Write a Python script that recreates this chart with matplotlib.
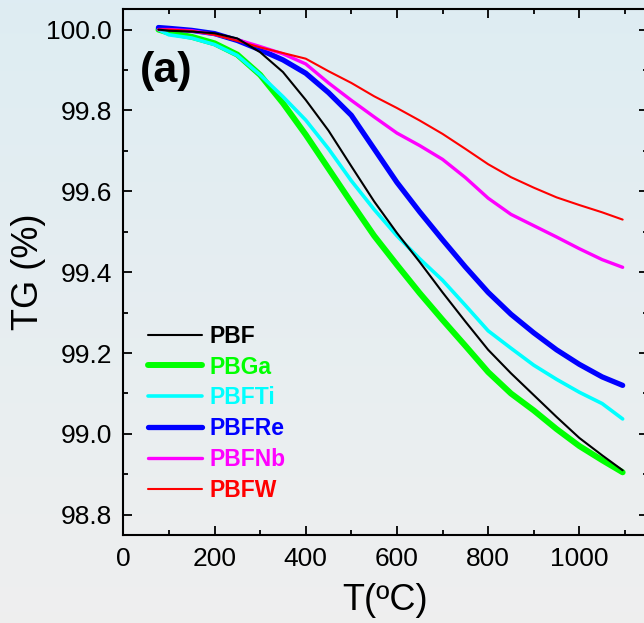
import matplotlib.pyplot as plt
import numpy as np
from matplotlib.ticker import MultipleLocator

plt.rcParams['font.family'] = ['Liberation Sans', 'DejaVu Sans']

# temperature grid (ºC) and TG (%)
temp = [77, 100, 150, 200, 250, 300, 350, 400, 450, 500, 550,
        600, 650, 700, 750, 800, 850, 900, 950, 1000, 1050, 1095]

tg_pbf = [100.000, 99.997, 99.995, 99.991, 99.978, 99.944, 99.895, 99.826,
          99.750, 99.662, 99.575, 99.497, 99.425, 99.350, 99.278, 99.208,
          99.150, 99.096, 99.042, 98.990, 98.947, 98.910]
tg_pbga = [100.000, 99.992, 99.982, 99.966, 99.938, 99.888, 99.818, 99.740,
           99.656, 99.572, 99.490, 99.418, 99.348, 99.282, 99.218, 99.153,
           99.100, 99.058, 99.012, 98.970, 98.935, 98.905]
tg_pbfti = [100.000, 99.987, 99.979, 99.963, 99.936, 99.888, 99.834, 99.776,
            99.705, 99.626, 99.555, 99.490, 99.433, 99.380, 99.318, 99.255,
            99.212, 99.170, 99.135, 99.103, 99.075, 99.037]
tg_pbfre = [100.005, 100.003, 99.998, 99.990, 99.973, 99.950, 99.925, 99.892,
            99.844, 99.788, 99.705, 99.622, 99.549, 99.480, 99.413, 99.350,
            99.296, 99.250, 99.208, 99.172, 99.141, 99.120]
tg_pbfnb = [100.000, 100.000, 99.997, 99.988, 99.975, 99.958, 99.940, 99.915,
            99.868, 99.825, 99.784, 99.744, 99.713, 99.679, 99.634, 99.583,
            99.543, 99.515, 99.487, 99.458, 99.431, 99.412]
tg_pbfw = [100.000, 100.000, 99.997, 99.987, 99.972, 99.956, 99.942, 99.928,
           99.897, 99.868, 99.835, 99.806, 99.775, 99.742, 99.705, 99.667,
           99.635, 99.609, 99.585, 99.566, 99.548, 99.530]

names = ['PBF', 'PBGa', 'PBFTi', 'PBFRe', 'PBFNb', 'PBFW']
colors = ['black', '#00ff00', '#00ffff', '#0000ff', '#ff00ff', '#ff0000']
widths = [1.5, 4.3, 2.6, 3.8, 2.4, 1.5]
series = [tg_pbf, tg_pbga, tg_pbfti, tg_pbfre, tg_pbfnb, tg_pbfw]

fig = plt.figure(figsize=(6.44, 6.23), dpi=100)

# light blue-to-grey background gradient
bg = fig.add_axes([0, 0, 1, 1], zorder=-1)
top = np.array([0.871, 0.929, 0.953])
bot = np.array([0.937, 0.937, 0.937])
t = np.linspace(0, 1, 256)[:, None]
grad = top * (1 - t) + bot * t
bg.imshow(grad[:, None, :], aspect='auto', extent=[0, 1, 0, 1])
bg.axis('off')

ax = fig.add_axes([0.1915, 0.1413, 0.8143, 0.8437])
ax.set_facecolor('none')

lines = {}
for k in [1, 2, 3, 4, 5, 0]:
    ln, = ax.plot(temp, series[k], color=colors[k], lw=widths[k],
                  solid_capstyle='round', solid_joinstyle='round',
                  label=names[k])
    lines[names[k]] = ln

ax.set_xlim(0, 1150)
ax.set_ylim(98.75, 100.05)
ax.xaxis.set_major_locator(MultipleLocator(200))
ax.xaxis.set_minor_locator(MultipleLocator(100))
ax.yaxis.set_major_locator(MultipleLocator(0.2))
ax.yaxis.set_minor_locator(MultipleLocator(0.1))
ax.yaxis.set_major_formatter(plt.FormatStrFormatter('%.1f'))

ax.tick_params(which='both', direction='in', top=True, right=True, width=1.3)
ax.tick_params(which='major', length=6.5, labelsize=19, pad=9)
ax.tick_params(axis='y', which='major', pad=8)
ax.tick_params(which='minor', length=3.6)
for s in ax.spines.values():
    s.set_linewidth(1.5)

ax.set_xlabel('T(ºC)', fontsize=26, labelpad=8)
ax.set_ylabel('TG (%)', fontsize=26, labelpad=0)

ax.text(0.032, 0.8836, '(a)', transform=ax.transAxes, fontsize=31,
        fontweight='bold', ha='left', va='center')

leg = ax.legend(handles=[lines[n] for n in names], loc='upper left',
                bbox_to_anchor=(0.047, 0.400), frameon=False,
                prop={'size': 16.5, 'weight': 'bold'}, handlelength=2.35,
                handletextpad=0.35, labelspacing=0.34, borderpad=0,
                borderaxespad=0)
for txt, c in zip(leg.get_texts(), colors):
    txt.set_color(c)

fig.savefig('out.png', dpi=100)
